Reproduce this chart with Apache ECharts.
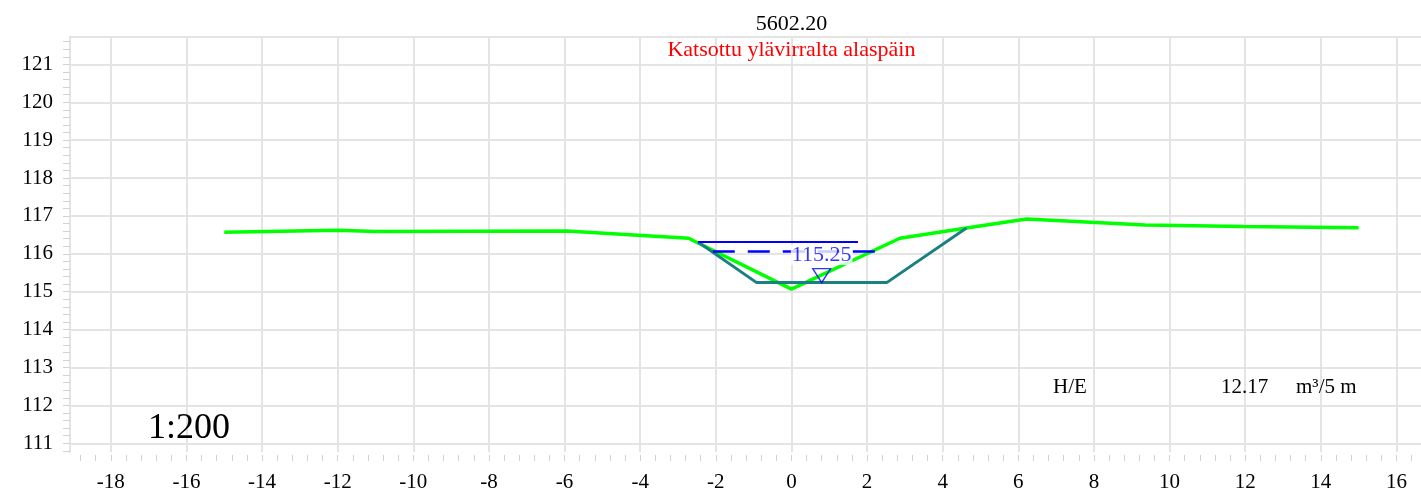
<!DOCTYPE html>
<html>
<head>
<meta charset="utf-8">
<title>5602.20</title>
<script src="https://cdn.jsdelivr.net/npm/echarts@6/dist/echarts.min.js"></script>
<style>
  html, body { margin: 0; padding: 0; background: #fff; }
  #main { width: 1421px; height: 493px; }
</style>
</head>
<body>
<div id="main"></div>
<script>
// maastoprofiili (vihreä)
const groundX = [-15, -12, -11, -5.95, -2.72, 0, 2.87, 4.63, 6.22, 9.35, 11.95, 15];
const groundY = [116.57, 116.62, 116.59, 116.60, 116.41, 115.07, 116.41, 116.68, 116.92, 116.76, 116.72, 116.69];
// suunniteltu uoma (turkoosi)
const ditchX = [-2.47, -0.92, 2.52, 4.63];
const ditchY = [116.31, 115.24, 115.24, 116.68];
// vesipinnat
const waterX = [-2.47, 1.76];
const waterY = [116.31, 116.31];
const dashX = [-2.08, 2.29];
const dashY = [116.06, 116.06];
const levelMark = [0.8, 115.24];
const levelLabelPos = [0.8, 115.97];
const levelText = '115.25';

// akselit
const xTicks = [-18, -16, -14, -12, -10, -8, -6, -4, -2, 0, 2, 4, 6, 8, 10, 12, 14, 16];
const yTicks = [111, 112, 113, 114, 115, 116, 117, 118, 119, 120, 121];
const xMinor = [];
for (let i = -47; i <= 42; i++) xMinor.push(+(i * 0.4).toFixed(1));
const yMinor = [];
for (let i = 554; i <= 608; i++) yMinor.push(+(i * 0.2).toFixed(1));

const titleText = '5602.20';
const subText = 'Katsottu ylävirralta alaspäin';
const scaleText = '1:200';
const volLabel = 'H/E';
const volValue = '12.17';
const volUnit = 'm³/5 m';

function zip(xs, ys) {
  return xs.map((x, i) => [x, ys[i]]);
}

const font = 'Liberation Serif';
const gridColor = '#e4e4e4';
const tickColor = '#d2d2d2';
const xMin = -19.08, xMax = 17, yMin = 110.77, yMax = 121.73;
const centerX = 70 + (0 - xMin) * 1364.2 / (xMax - xMin);

const chart = echarts.init(document.getElementById('main'));

const option = {
  animation: false,
  backgroundColor: '#fff',
  title: [
    {
      text: titleText, left: centerX, textAlign: 'center', top: 13, padding: 0,
      textStyle: { fontFamily: font, fontSize: 22, fontWeight: 'normal', color: '#000' }
    },
    {
      text: subText, left: centerX, textAlign: 'center', top: 39, padding: 0,
      textStyle: { fontFamily: font, fontSize: 22, fontWeight: 'normal', color: '#ff0000' }
    }
  ],
  grid: { left: 70, top: 36.7, width: 1364.2, height: 415.3, show: false, outerBoundsMode: 'none', containLabel: false },
  xAxis: [
    {
      type: 'value', min: xMin, max: xMax, position: 'bottom',
      axisLine: { show: false, onZero: false },
      axisTick: { show: false, customValues: xTicks },
      axisLabel: { customValues: xTicks, margin: 20, fontFamily: font, fontSize: 21, color: '#000' },
      splitLine: { show: true, lineStyle: { color: gridColor, width: 2 } }
    },
    {
      type: 'value', min: xMin, max: xMax, position: 'bottom', offset: 3,
      axisLine: { show: false, onZero: false },
      axisTick: { show: true, length: 6, customValues: xMinor, lineStyle: { color: tickColor } },
      axisLabel: { show: false },
      splitLine: { show: false }
    },
    {
      type: 'value', min: xMin, max: xMax, position: 'top',
      axisLine: { show: true, onZero: false, lineStyle: { color: gridColor, width: 2 } },
      axisTick: { show: false },
      axisLabel: { show: false },
      splitLine: { show: false }
    }
  ],
  yAxis: [
    {
      type: 'value', min: yMin, max: yMax, position: 'left',
      axisLine: { show: false, onZero: false },
      axisTick: { show: false, customValues: yTicks },
      axisLabel: { customValues: yTicks, margin: 17, padding: [5, 0, 0, 0], fontFamily: font, fontSize: 21, color: '#000' },
      splitLine: { show: true, lineStyle: { color: gridColor, width: 2 } }
    },
    {
      type: 'value', min: yMin, max: yMax, position: 'left',
      axisLine: { show: true, onZero: false, lineStyle: { color: gridColor, width: 2 } },
      axisTick: { show: true, length: 7, customValues: yMinor, lineStyle: { color: tickColor } },
      axisLabel: { show: false },
      splitLine: { show: false }
    }
  ],
  series: [
    {
      name: 'maasto', type: 'line', data: zip(groundX, groundY),
      symbol: 'none', lineStyle: { color: '#00ff00', width: 3.5 }, z: 2
    },
    {
      name: 'uoma', type: 'line', data: zip(ditchX, ditchY),
      symbol: 'none', lineStyle: { color: '#1a8080', width: 3 }, z: 3
    },
    {
      name: 'vesi', type: 'line', data: zip(waterX, waterY),
      symbol: 'none', lineStyle: { color: '#0000ff', width: 2 }, z: 4
    },
    {
      name: 'vesi2', type: 'line', data: zip(dashX, dashY),
      symbol: 'none', lineStyle: { color: '#0000ff', width: 2.5, type: [22, 13] }, z: 4
    },
    {
      name: 'merkki', type: 'scatter', data: [levelMark],
      symbol: 'path://M0,0 L20,0 L10,15 Z', symbolSize: [18, 14], symbolOffset: [0, -7],
      itemStyle: { color: 'rgba(0,0,0,0)', borderColor: '#0000ff', borderWidth: 1.3 },
      z: 5
    },
    {
      name: 'taso', type: 'scatter', data: [levelLabelPos], symbolSize: 1,
      itemStyle: { color: 'rgba(0,0,0,0)' },
      label: {
        show: true, position: 'inside', formatter: levelText,
        fontFamily: font, fontSize: 22, color: '#0000ff',
        backgroundColor: '#fff', padding: [0, 1], lineHeight: 20
      },
      z: 6
    }
  ],
  graphic: [
    {
      type: 'text', left: 148, top: 411, z: 10,
      style: { text: scaleText, font: '36px "Liberation Serif"', fill: '#000' }
    },
    {
      type: 'text', left: 1053, top: 377, z: 10,
      style: { text: volLabel, font: '21px "Liberation Serif"', fill: '#000' }
    },
    {
      type: 'text', left: 1221, top: 377, z: 10,
      style: { text: volValue, font: '21px "Liberation Serif"', fill: '#000' }
    },
    {
      type: 'text', left: 1296, top: 377, z: 10,
      style: { text: volUnit, font: '21px "Liberation Serif"', fill: '#000' }
    }
  ]
};

chart.setOption(option);
</script>
</body>
</html>
